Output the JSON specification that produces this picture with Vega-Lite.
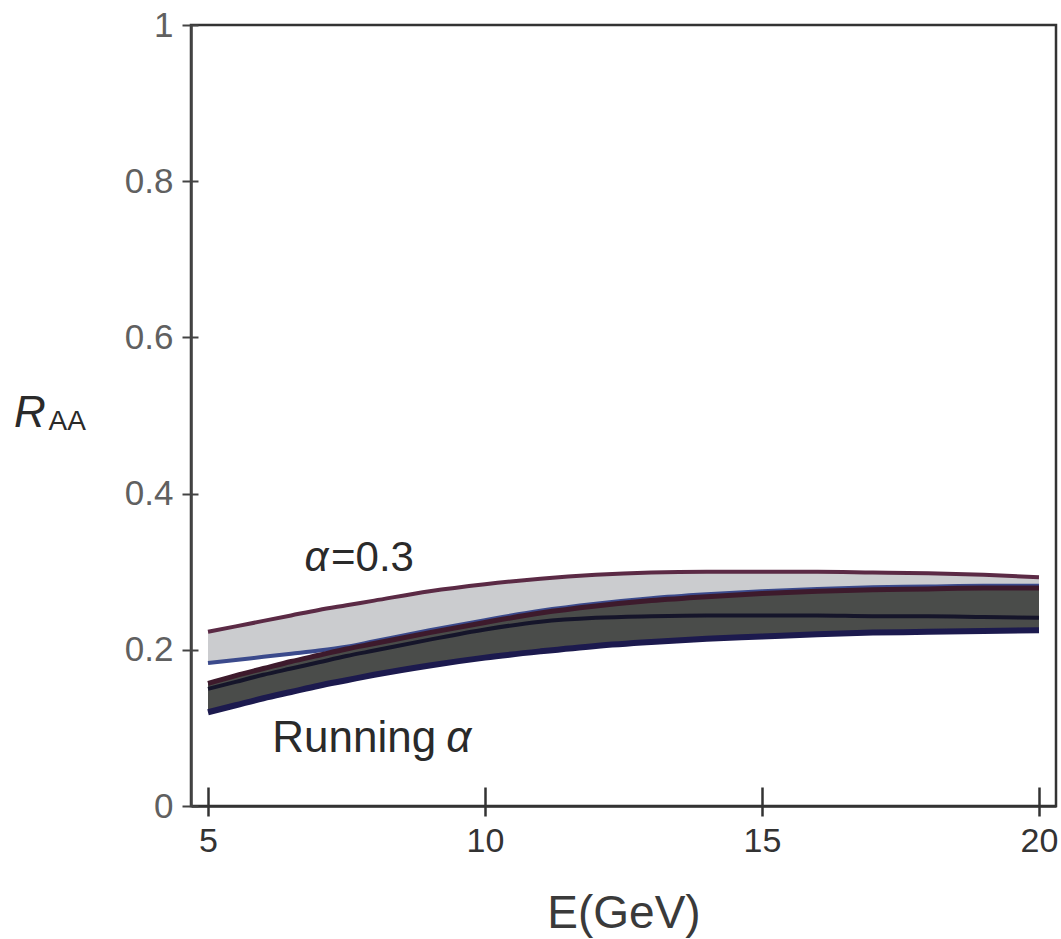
{
  "$schema": "https://vega.github.io/schema/vega-lite/v6.json",
  "width": 865,
  "height": 781,
  "autosize": "none",
  "padding": {"left": 191, "top": 25, "right": 5, "bottom": 133},
  "background": "white",
  "config": {
    "font": "Liberation Sans",
    "view": {"stroke": "#333333", "strokeWidth": 2.5},
    "axis": {"grid": false}
  },
  "datasets": {
    "bands": [
      {"E": 5,   "a_hi": 0.223, "a_lo": 0.183, "r_hi": 0.157, "r_mid": 0.150, "r_lo": 0.120},
      {"E": 5.5, "a_hi": 0.230, "a_lo": 0.187, "r_hi": 0.167, "r_mid": 0.159, "r_lo": 0.129},
      {"E": 6,   "a_hi": 0.237, "a_lo": 0.191, "r_hi": 0.176, "r_mid": 0.168, "r_lo": 0.138},
      {"E": 6.5, "a_hi": 0.244, "a_lo": 0.195, "r_hi": 0.185, "r_mid": 0.176, "r_lo": 0.146},
      {"E": 7,   "a_hi": 0.251, "a_lo": 0.199, "r_hi": 0.193, "r_mid": 0.184, "r_lo": 0.154},
      {"E": 7.5, "a_hi": 0.257, "a_lo": 0.204, "r_hi": 0.201, "r_mid": 0.192, "r_lo": 0.161},
      {"E": 8,   "a_hi": 0.263, "a_lo": 0.211, "r_hi": 0.208, "r_mid": 0.199, "r_lo": 0.168},
      {"E": 9,   "a_hi": 0.275, "a_lo": 0.225, "r_hi": 0.222, "r_mid": 0.213, "r_lo": 0.180},
      {"E": 10,  "a_hi": 0.284, "a_lo": 0.238, "r_hi": 0.235, "r_mid": 0.226, "r_lo": 0.190},
      {"E": 11,  "a_hi": 0.291, "a_lo": 0.250, "r_hi": 0.247, "r_mid": 0.236, "r_lo": 0.198},
      {"E": 12,  "a_hi": 0.296, "a_lo": 0.259, "r_hi": 0.256, "r_mid": 0.241, "r_lo": 0.205},
      {"E": 13,  "a_hi": 0.299, "a_lo": 0.266, "r_hi": 0.263, "r_mid": 0.243, "r_lo": 0.210},
      {"E": 14,  "a_hi": 0.300, "a_lo": 0.271, "r_hi": 0.268, "r_mid": 0.244, "r_lo": 0.214},
      {"E": 15,  "a_hi": 0.300, "a_lo": 0.275, "r_hi": 0.272, "r_mid": 0.244, "r_lo": 0.217},
      {"E": 16,  "a_hi": 0.300, "a_lo": 0.278, "r_hi": 0.275, "r_mid": 0.244, "r_lo": 0.220},
      {"E": 17,  "a_hi": 0.299, "a_lo": 0.280, "r_hi": 0.277, "r_mid": 0.243, "r_lo": 0.222},
      {"E": 18,  "a_hi": 0.298, "a_lo": 0.281, "r_hi": 0.278, "r_mid": 0.243, "r_lo": 0.223},
      {"E": 19,  "a_hi": 0.296, "a_lo": 0.282, "r_hi": 0.279, "r_mid": 0.242, "r_lo": 0.224},
      {"E": 20,  "a_hi": 0.293, "a_lo": 0.282, "r_hi": 0.279, "r_mid": 0.241, "r_lo": 0.225}
    ],
    "labels": [
      {"E": 6.74, "R": 0.301, "text": "α", "style": "italic", "size": 42},
      {"E": 7.22, "R": 0.301, "text": "=0.3", "style": "normal", "size": 42},
      {"E": 6.16, "R": 0.069, "text": "Running", "style": "normal", "size": 44},
      {"E": 9.30, "R": 0.069, "text": "α", "style": "italic", "size": 44},
      {"E": 1.50, "R": 0.485, "text": "R", "style": "italic", "size": 44},
      {"E": 2.12, "R": 0.481, "text": "AA", "style": "normal", "size": 28}
    ]
  },
  "resolve": {"axis": {"x": "independent", "y": "independent"}},
  "layer": [
    {
      "data": {"name": "bands"},
      "mark": {"type": "area", "color": "#cbcccf", "opacity": 1, "interpolate": "monotone"},
      "encoding": {
        "x": {
          "field": "E", "type": "quantitative",
          "scale": {"domain": [4.693, 20.307], "nice": false, "zero": false},
          "axis": {
            "orient": "bottom", "values": [5, 10, 15, 20], "tickSize": 10, "tickWidth": 2.5,
            "tickColor": "#333333", "domainColor": "#333333", "domainWidth": 2.5,
            "labelFontSize": 34, "labelColor": "#333333", "labelPadding": 8,
            "labelFlush": false, "labelOverlap": false,
            "title": "E(GeV)", "titleFontSize": 46, "titleFontWeight": "normal",
            "titleColor": "#3a3a3a", "titlePadding": 33
          }
        },
        "y": {
          "field": "a_hi", "type": "quantitative",
          "scale": {"domain": [0, 1], "nice": false},
          "axis": {
            "orient": "left", "values": [0, 0.2, 0.4, 0.6, 0.8, 1], "format": ".1~f",
            "tickSize": 9, "tickWidth": 2,
            "tickColor": "#444444", "domainColor": "#444444", "domainWidth": 2.5,
            "labelFontSize": 35, "labelColor": "#606060", "labelPadding": 9,
            "labelFlush": false, "labelOverlap": false, "title": null
          }
        },
        "y2": {"field": "a_lo"}
      }
    },
    {
      "data": {"name": "bands"},
      "mark": {"type": "area", "color": "#4a4c4a", "opacity": 1, "interpolate": "monotone"},
      "encoding": {
        "x": {
          "field": "E", "type": "quantitative",
          "axis": {
            "orient": "bottom", "values": [5, 10, 15, 20], "tickSize": -19, "tickWidth": 2.5,
            "tickColor": "#333333", "domain": false, "labels": false, "title": null
          }
        },
        "y": {
          "field": "r_hi", "type": "quantitative",
          "axis": {
            "orient": "left", "values": [0, 0.2, 0.4, 0.6, 0.8, 1], "tickSize": -7, "tickWidth": 2,
            "tickColor": "#444444", "domain": false, "labels": false, "title": null
          }
        },
        "y2": {"field": "r_lo"}
      }
    },
    {
      "data": {"name": "bands"},
      "mark": {"type": "line", "color": "#5b2a45", "strokeWidth": 4, "interpolate": "monotone"},
      "encoding": {
        "x": {"field": "E", "type": "quantitative", "axis": null},
        "y": {"field": "a_hi", "type": "quantitative", "axis": null}
      }
    },
    {
      "data": {"name": "bands"},
      "mark": {"type": "line", "color": "#3b4a8c", "strokeWidth": 4, "interpolate": "monotone"},
      "encoding": {
        "x": {"field": "E", "type": "quantitative", "axis": null},
        "y": {"field": "a_lo", "type": "quantitative", "axis": null}
      }
    },
    {
      "data": {"name": "bands"},
      "mark": {"type": "line", "color": "#15152a", "strokeWidth": 4, "interpolate": "monotone"},
      "encoding": {
        "x": {"field": "E", "type": "quantitative", "axis": null},
        "y": {"field": "r_mid", "type": "quantitative", "axis": null}
      }
    },
    {
      "data": {"name": "bands"},
      "mark": {"type": "line", "color": "#3d1a2c", "strokeWidth": 5, "interpolate": "monotone"},
      "encoding": {
        "x": {"field": "E", "type": "quantitative", "axis": null},
        "y": {"field": "r_hi", "type": "quantitative", "axis": null}
      }
    },
    {
      "data": {"name": "bands"},
      "mark": {"type": "line", "color": "#1c1a4e", "strokeWidth": 6, "interpolate": "monotone"},
      "encoding": {
        "x": {"field": "E", "type": "quantitative", "axis": null},
        "y": {"field": "r_lo", "type": "quantitative", "axis": null}
      }
    },
    {
      "data": {"name": "labels"},
      "transform": [{"filter": "datum.style === 'normal'"}],
      "mark": {"type": "text", "align": "left", "baseline": "alphabetic", "color": "#2a2a2a", "fontStyle": "normal"},
      "encoding": {
        "x": {"field": "E", "type": "quantitative", "axis": null},
        "y": {"field": "R", "type": "quantitative", "axis": null},
        "text": {"field": "text"},
        "size": {"field": "size", "type": "quantitative", "scale": null}
      }
    },
    {
      "data": {"name": "labels"},
      "transform": [{"filter": "datum.style === 'italic'"}],
      "mark": {"type": "text", "align": "left", "baseline": "alphabetic", "color": "#2a2a2a", "fontStyle": "italic"},
      "encoding": {
        "x": {"field": "E", "type": "quantitative", "axis": null},
        "y": {"field": "R", "type": "quantitative", "axis": null},
        "text": {"field": "text"},
        "size": {"field": "size", "type": "quantitative", "scale": null}
      }
    }
  ]
}
